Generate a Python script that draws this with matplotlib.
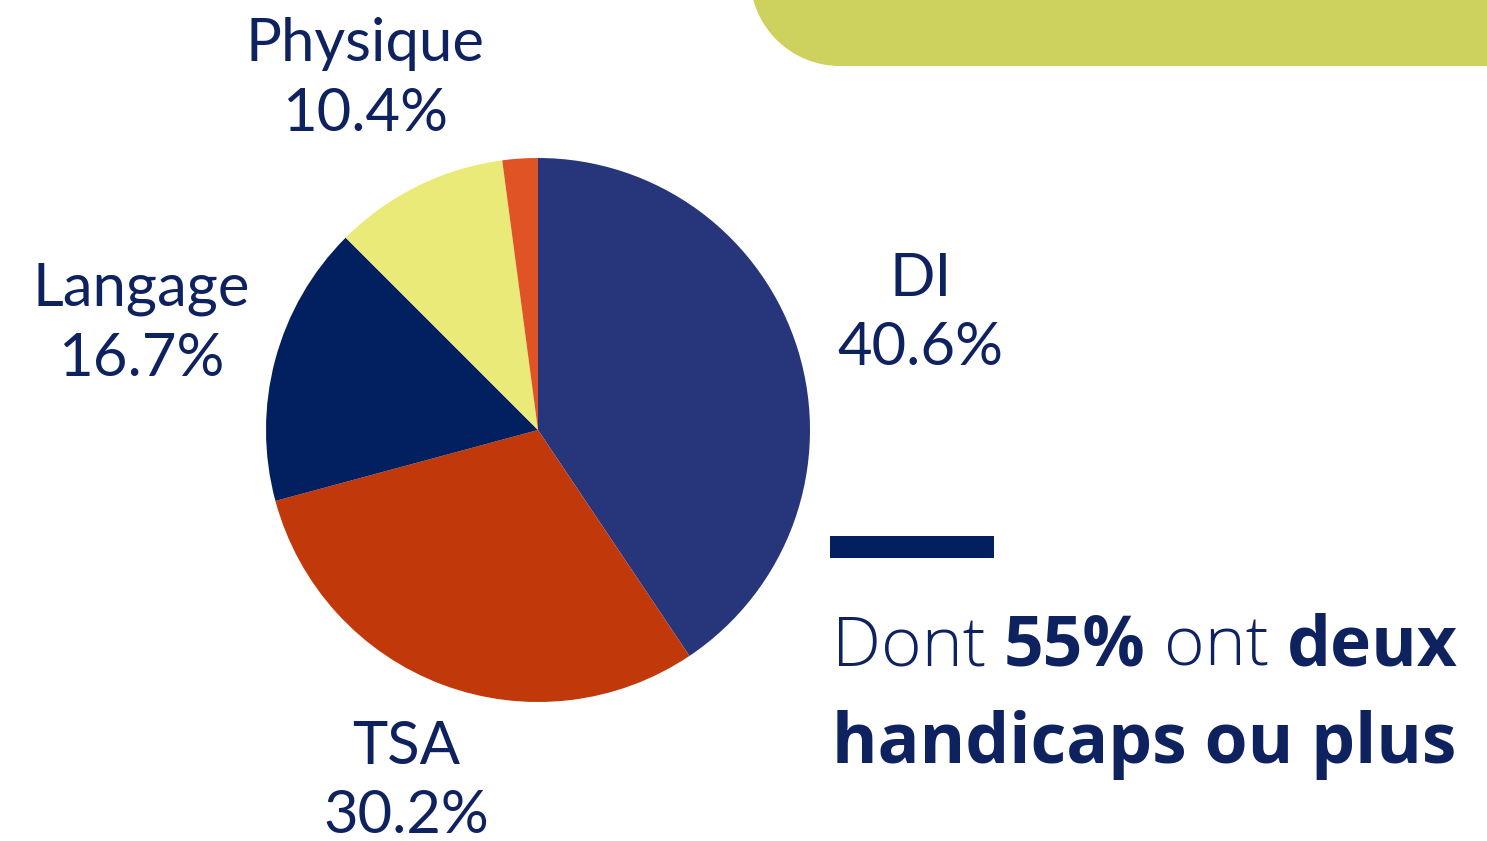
import numpy as np
import matplotlib.pyplot as plt
from matplotlib.patches import Circle, Rectangle

# Data
labels = ['DI', 'TSA', 'Langage', 'Physique', '']
values = [40.6, 30.2, 16.7, 10.4, 2.1]
colors = ['#27357A', '#C1390B', '#02205F', '#E9EA78', '#E05325']
label_dist = [1.47, 1.38, 1.51, 1.44, None]

NAVY = '#0F2260'
W, H = 1487, 841

fig = plt.figure(figsize=(W / 100, H / 100), dpi=100)
ax = fig.add_axes([0, 0, 1, 1])
ax.set_xlim(0, W)
ax.set_ylim(0, H)
ax.set_aspect('equal')
ax.axis('off')

# lime decoration, top right
lime = '#CDD25E'
ax.add_patch(Circle((840, H + 24), 90, color=lime, lw=0))
ax.add_patch(Rectangle((840, H - 66), W - 840, 80, color=lime, lw=0))

# pie
cx, cy, r = 538, H - 430, 272
ax.pie(values, colors=colors, startangle=90, counterclock=False,
       center=(cx, cy), radius=r, wedgeprops=dict(linewidth=0))
ax.set_xlim(0, W)
ax.set_ylim(0, H)

# labels
start = 90
for lab, v, d in zip(labels, values, label_dist):
    mid = start - v * 3.6 / 2
    start -= v * 3.6
    if d is None:
        continue
    a = np.deg2rad(mid)
    ax.text(cx + d * r * np.cos(a), cy + d * r * np.sin(a),
            f'{lab}\n{v:.1f}%', ha='center', va='center',
            fontsize=43, family='Lato', color=NAVY, linespacing=1.35)

# dash
ax.add_patch(Rectangle((830, H - 558), 164, 22, color='#02205F', lw=0))

# mixed-weight note
fig.canvas.draw()
renderer = fig.canvas.get_renderer()


def line(parts, x0, y0):
    x = x0
    for txt, w in parts:
        t = ax.text(x, y0, txt, fontsize=50, family='Open Sans',
                    fontweight=w, color=NAVY, ha='left', va='baseline')
        bb = t.get_window_extent(renderer)
        x += bb.width


line([('Dont ', 'light'), ('55%', 'bold'), (' ont ', 'light'), ('deux', 'bold')], 832, H - 665)
line([('handicaps ou plus', 'bold')], 832, H - 763)

fig.savefig('out.png', dpi=100)
